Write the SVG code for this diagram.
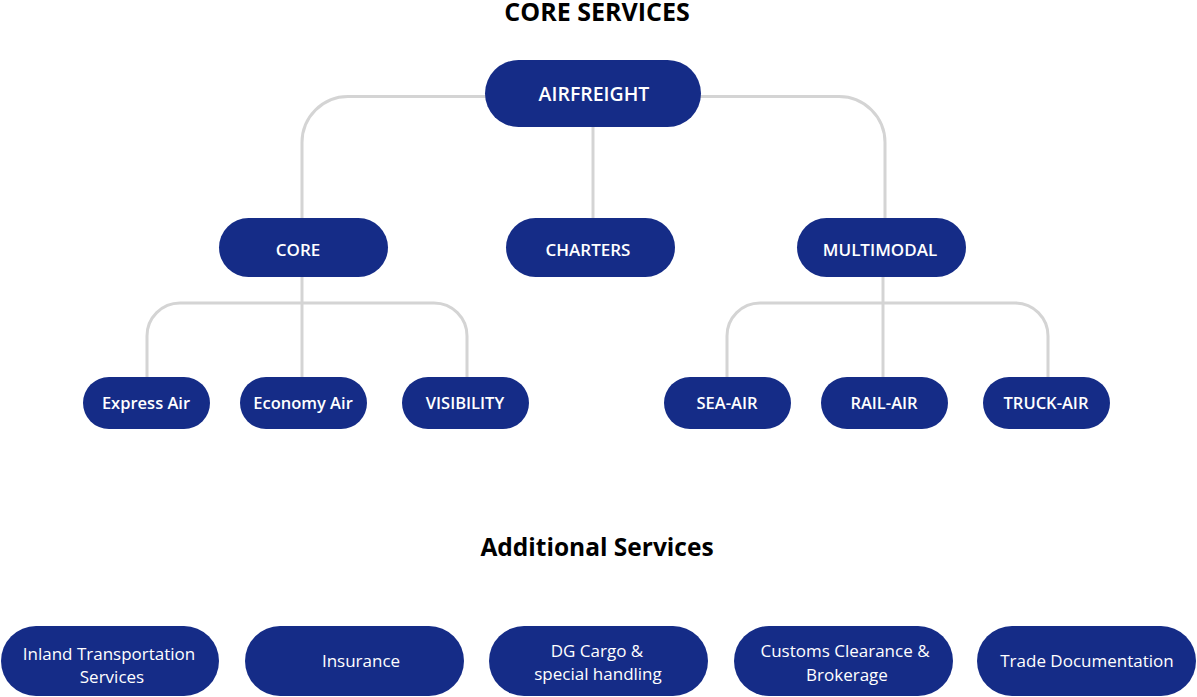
<svg xmlns="http://www.w3.org/2000/svg" width="1197" height="697" viewBox="0 0 1197 697">
<style>
.n{fill:#152C87}
.t{fill:#fff;font-family:"Open Sans","Noto Sans",sans-serif;font-weight:600;font-size:16.5px;text-anchor:middle}
.t2{font-size:17px}
.t3{font-size:19.5px}
.b{fill:#fff;font-family:"Open Sans","Noto Sans",sans-serif;font-weight:500;font-size:17px;text-anchor:middle}
.h{fill:#000;font-family:"Open Sans","Noto Sans",sans-serif;font-weight:700;text-anchor:middle}
.c{fill:none;stroke:#D4D4D4;stroke-width:3}
</style>
<rect width="1197" height="697" fill="#fff"/>
<text class="h" x="597" y="21" font-size="25">CORE SERVICES</text>
<text class="h" x="597" y="556" font-size="24.5">Additional Services</text>
<g id="connectors">
<path class="c" d="M486 96.5 H348 A46 46 0 0 0 302 142.5 V219"/>
<path class="c" d="M700 96.5 H839 A46 46 0 0 1 885 142.5 V219"/>
<path class="c" d="M593 126 V219"/>
<path class="c" d="M302 276 V378"/>
<path class="c" d="M147 378 V336 A33 33 0 0 1 180 303 H434 A33 33 0 0 1 467 336 V378"/>
<path class="c" d="M883 276 V378"/>
<path class="c" d="M727 378 V336 A33 33 0 0 1 760 303 H1015 A33 33 0 0 1 1048 336 V378"/>
</g>
<g id="airfreight"><rect class="n" x="485" y="60" width="216" height="67" rx="33.5"/><text class="t t3" x="594" y="101">AIRFREIGHT</text></g>
<g id="core"><rect class="n" x="219" y="218" width="169" height="59" rx="29.5"/><text class="t t2" x="298" y="256">CORE</text></g>
<g id="charters"><rect class="n" x="506" y="218" width="169" height="59" rx="29.5"/><text class="t t2" x="588" y="256">CHARTERS</text></g>
<g id="multimodal"><rect class="n" x="797" y="218" width="169" height="59" rx="29.5"/><text class="t t2" x="880" y="256">MULTIMODAL</text></g>
<g id="express-air"><rect class="n" x="83" y="377" width="127" height="52" rx="26"/><text class="t" x="146" y="409">Express Air</text></g>
<g id="economy-air"><rect class="n" x="240" y="377" width="127" height="52" rx="26"/><text class="t" x="303" y="409">Economy Air</text></g>
<g id="visibility"><rect class="n" x="402" y="377" width="127" height="52" rx="26"/><text class="t" x="465" y="409">VISIBILITY</text></g>
<g id="sea-air"><rect class="n" x="664" y="377" width="127" height="52" rx="26"/><text class="t" x="727" y="409">SEA-AIR</text></g>
<g id="rail-air"><rect class="n" x="821" y="377" width="127" height="52" rx="26"/><text class="t" x="884" y="409">RAIL-AIR</text></g>
<g id="truck-air"><rect class="n" x="983" y="377" width="127" height="52" rx="26"/><text class="t" x="1046" y="409">TRUCK-AIR</text></g>
<g id="inland"><rect class="n" x="1" y="626" width="218" height="70" rx="35"/><text class="b" x="109" y="660">Inland Transportation</text><text class="b" x="112" y="683">Services</text></g>
<g id="insurance"><rect class="n" x="245" y="626" width="219" height="70" rx="35"/><text class="b" x="361" y="667">Insurance</text></g>
<g id="dg-cargo"><rect class="n" x="489" y="626" width="219" height="70" rx="35"/><text class="b" x="597" y="657">DG Cargo &amp;</text><text class="b" x="598" y="680">special handling</text></g>
<g id="customs"><rect class="n" x="734" y="626" width="219" height="70" rx="35"/><text class="b" x="845" y="657">Customs Clearance &amp;</text><text class="b" x="847" y="681">Brokerage</text></g>
<g id="trade-doc"><rect class="n" x="977" y="626" width="219" height="70" rx="35"/><text class="b" x="1087" y="667">Trade Documentation</text></g>
</svg>
